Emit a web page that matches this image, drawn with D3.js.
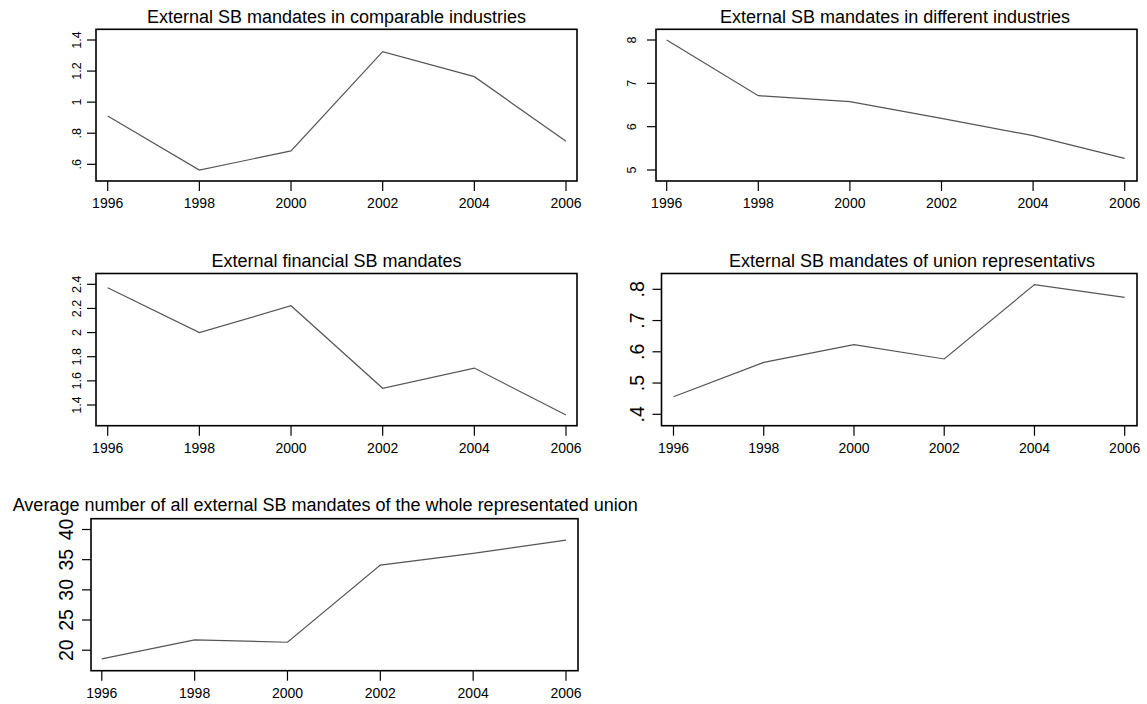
<!DOCTYPE html>
<html>
<head>
<meta charset="utf-8">
<script src="https://cdn.jsdelivr.net/npm/d3@7"></script>
<style>
  body { margin: 0; background: #fff; }
  svg { display: block; font-family: "Liberation Sans", Arial, sans-serif; }
</style>
</head>
<body>
<svg id="chart"></svg>
<script>
// data
const years = [1996, 1998, 2000, 2002, 2004, 2006];
const comparable = [0.911, 0.563, 0.686, 1.325, 1.164, 0.748];
const different = [8.0, 6.715, 6.576, 6.193, 5.792, 5.269];
const financial = [2.372, 2.0, 2.222, 1.539, 1.706, 1.317];
const unionReps = [0.456, 0.566, 0.623, 0.577, 0.815, 0.774];
const average = [18.56, 21.7, 21.32, 34.1, 36.03, 38.23];

const ticksComparable = [0.6, 0.8, 1, 1.2, 1.4];
const ticksDifferent = [5, 6, 7, 8];
const ticksFinancial = [1.4, 1.6, 1.8, 2, 2.2, 2.4];
const ticksUnion = [0.4, 0.5, 0.6, 0.7, 0.8];
const ticksAverage = [20, 25, 30, 35, 40];

const titles = [
  'External SB mandates in comparable industries',
  'External SB mandates in different industries',
  'External financial SB mandates',
  'External SB mandates of union representativs',
  'Average number of all external SB mandates of the whole representated union'
];

// layout of each panel (box edges, tick ranges, label placement)
const panels = [
  {values: comparable, ticks: ticksComparable, title: titles[0],
   box: [96, 577, 29.3, 181], xr: [107.7, 566], yr: [164.3, 40],
   labelX: 76, labelSize: 12.5, titleX: 336.5, titleY: 22.5, anchor: 'middle'},
  {values: different, ticks: ticksDifferent, title: titles[1],
   box: [656, 1137, 29.3, 181], xr: [666.7, 1124.7], yr: [170, 40],
   labelX: 631, labelSize: 12.5, titleX: 895, titleY: 22.5, anchor: 'middle'},
  {values: financial, ticks: ticksFinancial, title: titles[2],
   box: [96, 577, 273.5, 425.7], xr: [107.7, 566], yr: [405, 284.3],
   labelX: 76, labelSize: 12.5, titleX: 336.5, titleY: 266.5, anchor: 'middle'},
  {values: unionReps, ticks: ticksUnion, title: titles[3],
   box: [661.5, 1137, 273.5, 425.7], xr: [673.5, 1124.7], yr: [414.3, 289.3],
   labelX: 637, labelSize: 19.5, titleX: 912, titleY: 266.5, anchor: 'middle'},
  {values: average, ticks: ticksAverage, title: titles[4],
   box: [91, 578, 518.7, 670.7], xr: [101.8, 566], yr: [650.2, 529.5],
   labelX: 66, labelSize: 19.5, titleX: 12.7, titleY: 510.7, anchor: 'start'}
];

const width = 1147, height = 704;
const svg = d3.select('#chart').attr('width', width).attr('height', height);

const fmt = v => d3.format('~g')(v).replace(/^0\./, '.');

panels.forEach(p => {
  const [x0, x1, y0, y1] = p.box;
  const g = svg.append('g');

  const x = d3.scaleLinear().domain([years[0], years[years.length - 1]]).range(p.xr);
  const y = d3.scaleLinear()
      .domain([p.ticks[0], p.ticks[p.ticks.length - 1]])
      .range(p.yr);

  // title
  g.append('text')
      .attr('x', p.titleX)
      .attr('y', p.titleY)
      .attr('text-anchor', p.anchor)
      .attr('font-size', '18px')
      .attr('fill', '#000')
      .text(p.title);

  // y ticks + rotated labels
  const yAxis = g.append('g');
  yAxis.selectAll('line')
      .data(p.ticks)
      .join('line')
      .attr('x1', x0 - 9).attr('x2', x0)
      .attr('y1', d => y(d)).attr('y2', d => y(d))
      .attr('stroke', '#000').attr('stroke-width', 1.2);
  yAxis.selectAll('text')
      .data(p.ticks)
      .join('text')
      .attr('transform', d => `translate(${p.labelX},${y(d)}) rotate(-90)`)
      .attr('text-anchor', 'middle')
      .attr('dy', '0.36em')
      .attr('font-size', p.labelSize + 'px')
      .text(fmt);

  // x ticks + labels
  const xAxis = g.append('g');
  xAxis.selectAll('line')
      .data(years)
      .join('line')
      .attr('x1', d => x(d)).attr('x2', d => x(d))
      .attr('y1', y1).attr('y2', y1 + 10)
      .attr('stroke', '#000').attr('stroke-width', 1.2);
  xAxis.selectAll('text')
      .data(years)
      .join('text')
      .attr('x', d => x(d))
      .attr('y', y1 + 27)
      .attr('text-anchor', 'middle')
      .attr('font-size', '14px')
      .text(d => d);

  // series line
  const line = d3.line().x((d, i) => x(years[i])).y(d => y(d));
  g.append('path')
      .datum(p.values)
      .attr('d', line)
      .attr('fill', 'none')
      .attr('stroke', '#555')
      .attr('stroke-width', 1.2);

  // plot box
  g.append('rect')
      .attr('x', x0).attr('y', y0)
      .attr('width', x1 - x0).attr('height', y1 - y0)
      .attr('fill', 'none')
      .attr('stroke', '#000')
      .attr('stroke-width', 1.6);
});
</script>
</body>
</html>
